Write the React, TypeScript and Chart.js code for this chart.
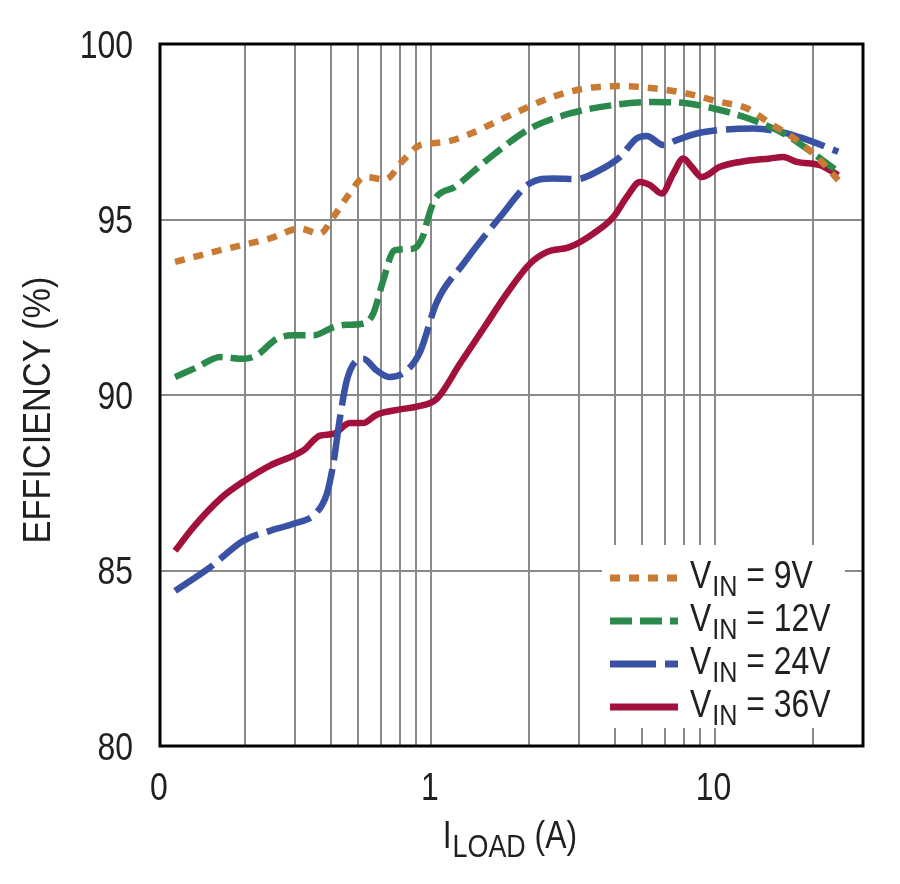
import React, { useEffect, useRef } from "react";
import { Chart, registerables } from "chart.js";

Chart.register(...registerables);

// Arial-metric face squeezed horizontally to look like a narrow grotesque
const FONT = "'Liberation Sans', Arial, sans-serif";
const SQUEEZE = 0.84;
const INK = "#231f20";

// load current (A) and efficiency (%) for each input voltage
const vin9X = [0.113, 0.172, 0.244, 0.311, 0.366, 0.408, 0.461, 0.528, 0.621, 0.72, 0.825, 0.996, 1.204, 1.621, 2.431, 3.187, 4.178, 5.472, 7.177, 9.4, 11.68, 14.11, 17.52, 21.17, 24.55];
const vin9Y = [93.79, 94.17, 94.46, 94.74, 94.6, 95.07, 95.69, 96.21, 96.14, 96.69, 97.12, 97.2, 97.4, 97.88, 98.5, 98.74, 98.8, 98.74, 98.59, 98.35, 98.17, 97.74, 97.26, 96.69, 96.12];

const vin12X = [0.113, 0.135, 0.163, 0.197, 0.219, 0.258, 0.295, 0.347, 0.408, 0.455, 0.52, 0.564, 0.612, 0.669, 0.781, 0.847, 0.882, 0.931, 1.095, 1.416, 2.012, 2.785, 3.957, 5.472, 7.177, 9.4, 12.32, 16.15, 20.05, 24.55];
const vin12Y = [90.51, 90.79, 91.08, 91.03, 91.13, 91.6, 91.7, 91.7, 91.93, 92.0, 92.03, 92.32, 93.27, 94.12, 94.17, 94.55, 95.07, 95.58, 95.93, 96.69, 97.59, 98.02, 98.26, 98.35, 98.31, 98.12, 97.83, 97.4, 96.88, 96.36];

const vin24X = [0.113, 0.15, 0.197, 0.244, 0.295, 0.357, 0.387, 0.408, 0.431, 0.455, 0.493, 0.52, 0.58, 0.646, 0.74, 0.825, 0.944, 1.172, 1.578, 2.012, 2.431, 2.939, 3.458, 4.178, 4.783, 5.188, 5.936, 6.616, 7.783, 9.4, 12.32, 15.29, 18.49, 24.55];
const vin24Y = [84.42, 85.09, 85.85, 86.13, 86.33, 86.66, 87.18, 88.04, 89.37, 90.41, 90.98, 91.03, 90.7, 90.51, 90.7, 91.23, 92.64, 93.74, 95.07, 96.03, 96.17, 96.15, 96.36, 96.78, 97.31, 97.38, 97.12, 97.26, 97.45, 97.55, 97.59, 97.5, 97.31, 96.93];

const vin36X = [0.113, 0.131, 0.165, 0.199, 0.244, 0.295, 0.32, 0.366, 0.408, 0.467, 0.52, 0.58, 0.701, 0.803, 0.944, 1.14, 1.416, 1.666, 2.012, 2.305, 2.785, 3.364, 3.957, 4.412, 4.913, 5.33, 5.86, 6.438, 6.982, 7.473, 8.104, 9.4, 11.06, 14.11, 15.71, 17.52, 21.17, 24.55];
const vin36Y = [85.56, 86.23, 87.08, 87.56, 87.99, 88.27, 88.42, 88.84, 88.89, 89.2, 89.2, 89.44, 89.59, 89.67, 89.89, 90.89, 92.03, 92.89, 93.74, 94.07, 94.22, 94.6, 95.07, 95.64, 96.07, 95.98, 95.74, 96.31, 96.74, 96.5, 96.21, 96.5, 96.64, 96.74, 96.78, 96.64, 96.55, 96.26];

const seriesNames = ["9V", "12V", "24V", "36V"];

// x grid/tick positions and the text printed under them
const xTickValues = [0.1, 0.2, 0.3, 0.4, 0.5, 0.6, 0.7, 0.8, 0.9, 2, 3, 4, 5, 6, 7, 8, 9, 20, 30];
const xTickText = ["0", "", "", "", "", "", "", "", "1", "", "", "", "", "", "", "", "10", "", ""];
const yTickValues = [80, 85, 90, 95, 100];

const styles = [
  { color: "#c97b34", dash: [10, 9] },
  { color: "#2b8a4b", dash: [22, 8] },
  { color: "#3a52a3", dash: [46, 9] },
  { color: "#a1113b", dash: [] as number[] },
];

// draws "main" + lowered "sub" + "rest", squeezed, starting at x on baseline y
function drawSub(ctx: CanvasRenderingContext2D, x: number, y: number, main: string, sub: string, rest: string, big: number, small: number, drop: number) {
  ctx.save();
  ctx.translate(x, y);
  ctx.scale(SQUEEZE, 1);
  ctx.textAlign = "left";
  let cx = 0;
  ctx.font = `${big}px ${FONT}`;
  ctx.fillText(main, cx, 0);
  cx += ctx.measureText(main).width + 1;
  ctx.font = `${small}px ${FONT}`;
  ctx.fillText(sub, cx, drop);
  cx += ctx.measureText(sub).width;
  ctx.font = `${big}px ${FONT}`;
  ctx.fillText(rest, cx, 0);
  ctx.restore();
}

function subWidth(ctx: CanvasRenderingContext2D, main: string, sub: string, rest: string, big: number, small: number) {
  ctx.font = `${big}px ${FONT}`;
  let w = ctx.measureText(main).width + ctx.measureText(rest).width + 1;
  ctx.font = `${small}px ${FONT}`;
  w += ctx.measureText(sub).width;
  return w * SQUEEZE;
}

function drawNarrow(ctx: CanvasRenderingContext2D, text: string, x: number, y: number, size: number, align: CanvasTextAlign, k = SQUEEZE) {
  ctx.save();
  ctx.translate(x, y);
  ctx.scale(k, 1);
  ctx.font = `${size}px ${FONT}`;
  ctx.textAlign = align;
  ctx.fillText(text, 0, 0);
  ctx.restore();
}

const decor = {
  id: "decor",
  afterDraw(chart: any) {
    const { ctx, chartArea: a } = chart;
    const xs = chart.scales.x;
    const ys = chart.scales.y;
    ctx.save();
    ctx.fillStyle = INK;
    ctx.textBaseline = "alphabetic";

    // tick labels
    yTickValues.forEach((v) => {
      drawNarrow(ctx, String(v), a.left - 27, ys.getPixelForValue(v) + 13.5, 38, "right");
    });
    xTickValues.forEach((v, i) => {
      if (xTickText[i]) drawNarrow(ctx, xTickText[i], xs.getPixelForValue(v) - 1, a.bottom + 54, 38, "center");
    });

    // legend
    const lx = a.right - 261;
    const ly = a.top + 501;
    ctx.fillStyle = "#ffffff";
    ctx.fillRect(lx, ly, 243, 183);
    seriesNames.forEach((name, i) => {
      const base = ly + 43 + i * 43;
      ctx.strokeStyle = styles[i].color;
      ctx.lineWidth = 7;
      ctx.lineCap = "butt";
      ctx.setLineDash(styles[i].dash);
      ctx.beginPath();
      ctx.moveTo(lx + 8, base - 10);
      ctx.lineTo(lx + 76, base - 10);
      ctx.stroke();
      ctx.setLineDash([]);
      ctx.fillStyle = INK;
      drawSub(ctx, lx + 88, base, "V", "IN", " = " + name, 38, 30, 8);
    });

    // x title
    ctx.fillStyle = INK;
    const tw = subWidth(ctx, "I", "LOAD", " (A)", 38, 32);
    drawSub(ctx, 510 - tw / 2, a.bottom + 102, "I", "LOAD", " (A)", 38, 32, 9);

    // y title
    ctx.save();
    ctx.translate(50, 410);
    ctx.rotate(-Math.PI / 2);
    drawNarrow(ctx, "EFFICIENCY (%)", 0, 0, 39, "center", 0.88);
    ctx.restore();

    // frame
    ctx.strokeStyle = "#000";
    ctx.lineWidth = 3;
    ctx.strokeRect(a.left, a.top, a.right - a.left, a.bottom - a.top);
    ctx.restore();
  },
};

export default function App() {
  const canvasRef = useRef<HTMLCanvasElement>(null);

  useEffect(() => {
    if (!canvasRef.current) return;
    const xs = [vin9X, vin12X, vin24X, vin36X];
    const ys = [vin9Y, vin12Y, vin24Y, vin36Y];

    const chart = new Chart(canvasRef.current, {
      type: "line",
      data: {
        datasets: seriesNames.map((name, i) => ({
          label: "VIN = " + name,
          data: xs[i].map((x, j) => ({ x, y: ys[i][j] })),
          borderColor: styles[i].color,
          borderDash: styles[i].dash,
          borderWidth: 6.5,
          borderCapStyle: "butt",
          pointRadius: 0,
          cubicInterpolationMode: "monotone",
          fill: false,
        })),
      },
      options: {
        animation: false,
        responsive: false,
        layout: { padding: { left: 0, top: 44, right: 37, bottom: 0 } },
        plugins: { legend: { display: false }, tooltip: { enabled: false } },
        scales: {
          x: {
            type: "logarithmic",
            min: 0.1,
            max: 30,
            afterBuildTicks: (scale: any) => {
              scale.ticks = xTickValues.map((v) => ({ value: v }));
            },
            afterFit: (scale: any) => {
              scale.height = 138;
            },
            grid: { color: "#8a8a8a", lineWidth: 2, drawTicks: false },
            border: { display: false },
            ticks: { display: false, autoSkip: false },
          },
          y: {
            min: yTickValues[0],
            max: yTickValues[yTickValues.length - 1],
            afterBuildTicks: (scale: any) => {
              scale.ticks = yTickValues.map((v) => ({ value: v }));
            },
            afterFit: (scale: any) => {
              scale.width = 160;
            },
            grid: { color: "#8a8a8a", lineWidth: 2, drawTicks: false },
            border: { display: false },
            ticks: { display: false },
          },
        },
      },
      plugins: [decor],
    } as any);

    return () => chart.destroy();
  }, []);

  return (
    <div style={{ position: "absolute", left: 0, top: 0, width: 900, height: 884, background: "#fff" }}>
      <canvas ref={canvasRef} width={900} height={884} />
    </div>
  );
}
